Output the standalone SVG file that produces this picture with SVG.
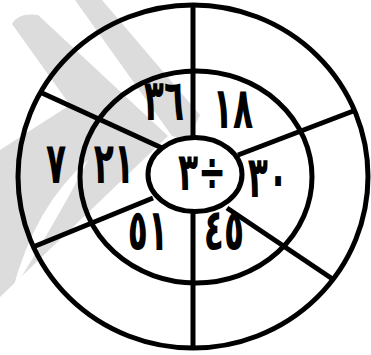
<svg xmlns="http://www.w3.org/2000/svg" width="371" height="355" viewBox="0 0 371 355">
<style>
.ln{fill:none;stroke:#000;stroke-width:5}
.wm{fill:#dcdcdc}
.t{font-family:"DejaVu Sans","Liberation Sans",sans-serif;font-size:33px;font-weight:bold;fill:#000;text-anchor:middle}
</style>
<rect width="371" height="355" fill="#fff"/>
<g id="watermark">
<path class="wm" d="M75,0 L102,0 L200,115 L188,140 L172,136 Z"/>
<path class="wm" d="M12,24 Q18,12 38,15 L168,136 L0,297 L0,150 L70,105 Z"/>
<path fill="#fff" d="M12,292 Q35,205 88,160 Q60,215 12,292 Z"/>
</g>
<g id="rings">
<ellipse class="ln" cx="193" cy="176.5" rx="175" ry="171.5"/>
<ellipse class="ln" cx="196" cy="177" rx="116" ry="106"/>
</g>
<g id="connectors">
<line class="ln" x1="193" y1="5" x2="193" y2="138"/>
<line class="ln" x1="193" y1="211" x2="193" y2="348"/>
<line class="ln" x1="42" y1="93" x2="162" y2="148"/>
<line class="ln" x1="33" y1="247" x2="153" y2="198"/>
<line class="ln" x1="356" y1="110" x2="238" y2="155"/>
<line class="ln" x1="227" y1="208" x2="334" y2="280"/>
</g>
<g id="center">
<ellipse class="ln" cx="195" cy="174.5" rx="47" ry="37"/>
<text class="t" transform="translate(202,190) scale(1,1.6)">٣÷</text>
</g>
<g id="n36"><text class="t" transform="translate(164,120) scale(1,1.75)">٣٦</text></g>
<g id="n18"><text class="t" transform="translate(233,128) scale(1,1.75)">١٨</text></g>
<g id="n7"><text class="t" transform="translate(56,183) scale(1,1.75)">٧</text></g>
<g id="n21"><text class="t" transform="translate(114,183) scale(1,1.75)">٢١</text></g>
<g id="n30"><text class="t" transform="translate(268,197) scale(1,1.75)">٣٠</text></g>
<g id="n51"><text class="t" transform="translate(148,250) scale(1,1.75)">٥١</text></g>
<g id="n45"><text class="t" transform="translate(224,250) scale(1,1.75)">٤٥</text></g>
</svg>
